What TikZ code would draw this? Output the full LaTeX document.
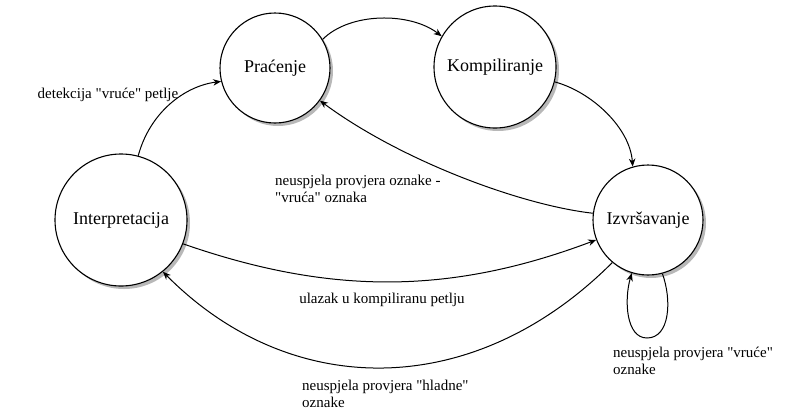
\documentclass[tikz,border=0pt]{standalone}
\usepackage{fontspec}
\setmainfont{Liberation Serif}
\newfontfamily\lserif{Liberation Serif}
\usetikzlibrary{arrows.meta}
\definecolor{shadowgray}{HTML}{B8B8B8}
\newcommand{\myq}{\symbol{34}}
\begin{document}
\begin{tikzpicture}[x=1pt,y=-1pt,
  state/.style={circle,draw=black,line width=1.1pt,fill=white,minimum size=#1,inner sep=0pt,
    font=\lserif\fontsize{18}{21}\selectfont,
    preaction={draw=none,fill=shadowgray,transform canvas={xshift=3pt,yshift=-3pt}}},
  edge/.style={draw=black,line width=1pt,-{Stealth[length=8pt,width=6.5pt,inset=2.5pt]}},
  lbl/.style={font=\lserif\fontsize{15}{17}\selectfont,inner sep=0pt,align=left}]
\useasboundingbox (0,0) rectangle (792,413);
\node[state=110pt] (prac) at (275,68) {Praćenje};
\node[state=122pt] (komp) at (495,67) {Kompiliranje};
\node[state=132pt] (interp) at (121,220) {Interpretacija};
\node[state=110pt] (izvr) at (648,220) {Izvršavanje};

\draw[edge] (interp.75) .. controls (150,112) and (185,86) .. (prac.194);
\draw[edge] (prac.31) .. controls (350,12) and (410,12) .. (komp.150);
\draw[edge] (komp.-14) .. controls (592,92) and (630,128) .. (izvr.106);
\draw[edge] (izvr.173) .. controls (520,205) and (400,160) .. (prac.-36);
\draw[edge] (interp.-21) .. controls (330,295) and (450,295) .. (izvr.201);
\draw[edge] (izvr.230) .. controls (474,401) and (291,401) .. (interp.-51);
\draw[edge] (izvr.-75) .. controls (672,300) and (670,338) .. (647,338)
            .. controls (626,338) and (624,300) .. (izvr.253);

\node[lbl] (l1) at (108,95) {detekcija \myq vruće\myq{} petlje};
\node[lbl,anchor=west] (l2) at (275,189) {neuspjela provjera oznake -\\\myq vruća\myq{} oznaka};
\node[lbl] (l3) at (382,300) {ulazak u kompiliranu petlju};
\node[lbl,anchor=north west] (l4) at (302,380) {neuspjela provjera \myq hladne\myq\\oznake};
\node[lbl,anchor=north west] (l5) at (613,347) {neuspjela provjera \myq vruće\myq\\oznake};
\end{tikzpicture}
\end{document}
